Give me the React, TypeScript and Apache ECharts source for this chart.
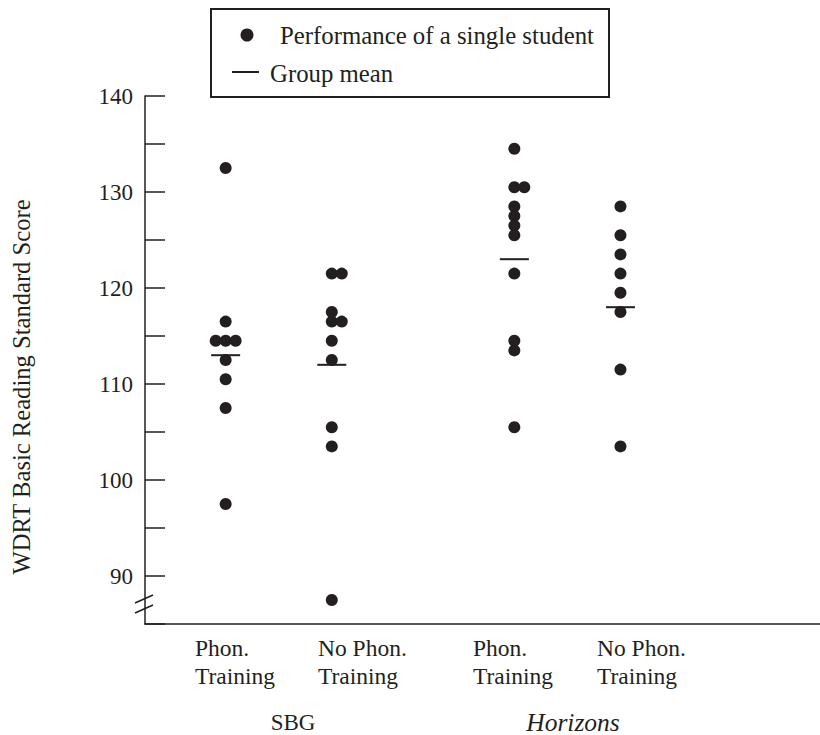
import React, { useEffect, useRef } from "react";
import * as echarts from "echarts";

// ---- data ----
const groupPositions = [1, 2, 3.72, 4.72];
const categoryLines = [
  ["Phon.", "Training"],
  ["No Phon.", "Training"],
  ["Phon.", "Training"],
  ["No Phon.", "Training"],
];
const schoolLabels = ["SBG", "Horizons"];
// [score, horizontal slot]
const sbgPhon = [[132.5, 0], [116.5, 0], [114.5, -1], [114.5, 0], [114.5, 1], [112.5, 0], [110.5, 0], [107.5, 0], [97.5, 0]];
const sbgNoPhon = [[121.5, 0], [121.5, 1], [117.5, 0], [116.5, 0], [116.5, 1], [114.5, 0], [112.5, 0], [105.5, 0], [103.5, 0], [87.5, 0]];
const horPhon = [[134.5, 0], [130.5, 0], [130.5, 1], [128.5, 0], [127.5, 0], [126.5, 0], [125.5, 0], [121.5, 0], [114.5, 0], [113.5, 0], [105.5, 0]];
const horNoPhon = [[128.5, 0], [125.5, 0], [123.5, 0], [121.5, 0], [119.5, 0], [117.5, 0], [111.5, 0], [103.5, 0]];
const groupMeans = [113, 112, 123, 118];
const yTickLabels = [90, 100, 110, 120, 130, 140];
const legendLabels = ["Performance of a single student", "Group mean"];
const yAxisTitle = "WDRT Basic Reading Standard Score";

// ---- layout ----
const INK = "#231f20";
const FONT = '"Liberation Serif", "DejaVu Serif", serif';
const FS = 23;
const SLOT = 0.094;
const labelLeft = [195, 318, 473, 597];
const schoolCenter = [293, 573];

export default function App() {
  const ref = useRef<HTMLDivElement>(null);
  useEffect(() => {
    if (!ref.current) return;
    const chart = echarts.init(ref.current, null, { renderer: "svg" });
    const groups = [sbgPhon, sbgNoPhon, horPhon, horNoPhon];
    const dots: number[][] = [];
    groups.forEach((g, gi) => {
      g.forEach(([v, s]) => dots.push([groupPositions[gi] + s * SLOT, v]));
    });
    const means = groupMeans.map((m, i) => [groupPositions[i], m]);

    const txt = (text: string, x: number, y: number, align = "left", extra: any = {}, fs = FS) => ({
      type: "text",
      x,
      y,
      silent: true,
      ...extra,
      style: {
        text,
        fill: INK,
        fontSize: fs,
        fontFamily: FONT,
        fontStyle: extra.fontStyle || "normal",
        textAlign: align,
        align,
        textVerticalAlign: "middle",
        verticalAlign: "middle",
      },
    });

    const graphics: any[] = [];
    categoryLines.forEach((lines, i) => {
      graphics.push(txt(lines[0], labelLeft[i], 648, "left", {}, 23.5));
      graphics.push(txt(lines[1], labelLeft[i], 676, "left", {}, 23.5));
    });
    graphics.push(txt(schoolLabels[0], schoolCenter[0], 722, "center", {}, 23));
    graphics.push(txt(schoolLabels[1], schoolCenter[1], 722, "center", { fontStyle: "italic" }, 25.5));
    graphics.push(txt(yAxisTitle, 21, 387, "center", { rotation: Math.PI / 2 }, 24.6));
    // legend
    graphics.push({ type: "rect", shape: { x: 211, y: 9, width: 398, height: 88 }, style: { fill: "#fff", stroke: INK, lineWidth: 2 } });
    graphics.push({ type: "circle", shape: { cx: 247, cy: 35, r: 6.5 }, style: { fill: INK } });
    graphics.push(txt(legendLabels[0], 280, 35, "left", {}, 24.8));
    graphics.push({ type: "line", shape: { x1: 232, y1: 72, x2: 259, y2: 72 }, style: { stroke: INK, lineWidth: 2 } });
    graphics.push(txt(legendLabels[1], 270, 73, "left", {}, 24.8));
    // axis break
    graphics.push({ type: "line", shape: { x1: 135, y1: 603, x2: 153, y2: 595 }, style: { stroke: INK, lineWidth: 1.5 } });
    graphics.push({ type: "line", shape: { x1: 135, y1: 613, x2: 153, y2: 605 }, style: { stroke: INK, lineWidth: 1.5 } });

    chart.setOption({
      animation: false,
      backgroundColor: "#fff",
      grid: { left: 145, right: 0, top: 96, bottom: 111, containLabel: false },
      xAxis: {
        type: "value",
        min: 0.24,
        max: 6.6,
        axisLine: { show: true, onZero: false, lineStyle: { color: INK, width: 1.5 } },
        axisTick: { show: false },
        axisLabel: { show: false },
        splitLine: { show: false },
      },
      yAxis: {
        type: "value",
        min: 85,
        max: 140,
        interval: 5,
        axisLine: { show: true, onZero: false, lineStyle: { color: INK, width: 1.5 } },
        axisTick: { show: true, inside: true, length: 20, lineStyle: { color: INK, width: 1.5 } },
        axisLabel: {
          color: INK,
          fontSize: FS,
          fontFamily: FONT,
          margin: 12,
          formatter: (v: number) => (yTickLabels.includes(v) ? String(v) : ""),
        },
        splitLine: { show: false },
      },
      series: [
        {
          type: "scatter",
          name: legendLabels[0],
          data: dots,
          symbol: "circle",
          symbolSize: 12,
          itemStyle: { color: INK, opacity: 1 },
          silent: true,
        },
        {
          type: "scatter",
          name: legendLabels[1],
          data: means,
          symbol: "rect",
          symbolSize: [29, 2],
          itemStyle: { color: INK, opacity: 1 },
          silent: true,
        },
      ],
      graphic: graphics,
    });
    return () => chart.dispose();
  }, []);
  return <div ref={ref} style={{ position: "absolute", left: 0, top: 0, width: 820, height: 735 }} />;
}
